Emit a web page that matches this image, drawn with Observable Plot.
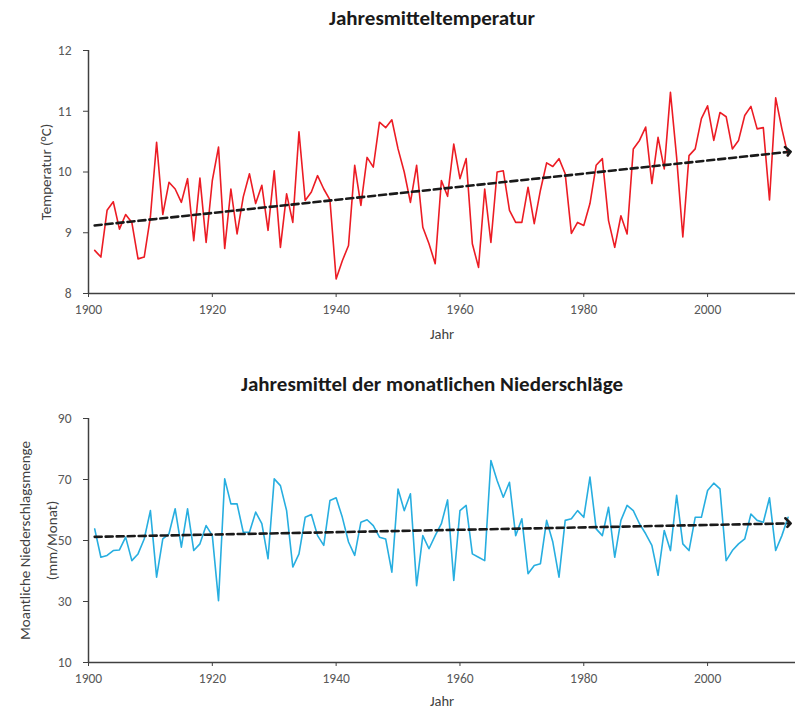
<!DOCTYPE html>
<html>
<head>
<meta charset="utf-8">
<script src="https://cdn.jsdelivr.net/npm/d3@7"></script>
<script src="https://cdn.jsdelivr.net/npm/@observablehq/plot@0.6"></script>
<style>
  html, body { margin: 0; padding: 0; background: #fff; }
  body { width: 795px; height: 717px; position: relative; overflow: hidden;
         font-family: Carlito, Lato, "Open Sans", sans-serif; }
  .title { position: absolute; left: 0; width: 864px; text-align: center;
           font-weight: bold; font-size: 21px; color: #1a1a1a; }
  #top, #bottom { position: absolute; left: 0; }
  #top { top: 30px; }
  #bottom { top: 400px; }
</style>
</head>
<body>
<div class="title" style="top:5px">Jahresmitteltemperatur</div>
<div id="top"></div>
<div class="title" style="top:371px">Jahresmittel der monatlichen Niederschläge</div>
<div id="bottom"></div>
<script>
const years = d3.range(1901, 2014);

const temperature = [
  8.71, 8.60, 9.37, 9.51, 9.06, 9.30, 9.17, 8.57, 8.60, 9.26,
  10.49, 9.30, 9.83, 9.72, 9.50, 9.89, 8.87, 9.90, 8.84, 9.86,
  10.41, 8.74, 9.72, 8.98, 9.59, 9.97, 9.48, 9.78, 9.04, 10.02,
  8.76, 9.64, 9.17, 10.66, 9.53, 9.67, 9.94, 9.72, 9.54, 8.24,
  8.54, 8.79, 10.11, 9.45, 10.24, 10.08, 10.82, 10.73, 10.86, 10.38,
  10.00, 9.50, 10.11, 9.09, 8.82, 8.49, 9.86, 9.60, 10.46, 9.89,
  10.22, 8.82, 8.43, 9.72, 8.84, 10.00, 10.02, 9.37, 9.17, 9.17,
  9.75, 9.15, 9.70, 10.15, 10.09, 10.22, 9.97, 8.99, 9.17, 9.12,
  9.48, 10.11, 10.22, 9.20, 8.76, 9.28, 8.98, 10.38, 10.52, 10.74,
  9.81, 10.57, 10.05, 11.31, 10.24, 8.93, 10.27, 10.38, 10.88, 11.09,
  10.52, 10.98, 10.91, 10.38, 10.52, 10.93, 11.08, 10.71, 10.73, 9.54,
  11.22, 10.71, 10.27
];

const precipitation = [
  53.8, 44.5, 45.1, 46.7, 46.9, 51.1, 43.4, 45.6, 50.5, 59.8,
  38.0, 50.5, 52.2, 60.4, 47.8, 60.4, 46.7, 48.9, 54.9, 51.6,
  30.3, 70.2, 62.0, 62.0, 52.7, 52.7, 59.3, 55.5, 44.0, 70.2,
  68.0, 59.8, 41.3, 45.6, 57.6, 58.5, 51.6, 48.4, 63.1, 64.0,
  57.6, 49.5, 45.1, 56.0, 56.8, 54.9, 51.1, 50.5, 39.6, 66.9,
  59.8, 65.3, 35.2, 51.6, 47.3, 51.6, 55.5, 63.3, 36.9, 59.8,
  61.5, 45.6, 44.5, 43.4, 76.2, 69.7, 64.2, 69.1, 51.6, 57.1,
  39.1, 41.8, 42.4, 56.6, 49.5, 38.0, 56.6, 57.1, 59.8, 57.6,
  70.8, 53.8, 51.6, 60.9, 44.5, 56.6, 61.5, 59.8, 55.5, 52.2,
  48.4, 38.6, 53.3, 46.7, 64.8, 48.9, 46.7, 57.6, 57.6, 66.4,
  68.8, 66.9, 43.4, 46.7, 48.9, 50.5, 58.7, 56.6, 56.0, 64.0,
  46.7, 51.6, 57.6
];

const trendYears = [1901, 2013];
const temperatureTrend = [9.12, 10.33];
const precipitationTrend = [51.2, 55.6];

const xTicks = [1900, 1920, 1940, 1960, 1980, 2000];
const tempTicks = [8, 9, 10, 11, 12];
const precipTicks = [10, 30, 50, 70, 90];

const tempData = years.map((y, i) => ({year: y, value: temperature[i]}));
const precipData = years.map((y, i) => ({year: y, value: precipitation[i]}));
const tempTrendData = trendYears.map((y, i) => ({year: y, value: temperatureTrend[i]}));
const precipTrendData = trendYears.map((y, i) => ({year: y, value: precipitationTrend[i]}));

const font = "Carlito, Lato, 'Open Sans', sans-serif";
const axisColor = "#404040";
const labelColor = "#595959";

function makeChart({data, trend, color, yDomain, yTicks, height, marginTop, marginBottom, yLabel, yLabelDx, xLabelDy}) {
  return Plot.plot({
    width: 795,
    height,
    marginLeft: 88,
    marginRight: 0,
    marginTop,
    marginBottom,
    style: {fontFamily: font, fontSize: "13.5px", color: labelColor, background: "white"},
    x: {domain: [1900, 2014.2]},
    y: {domain: yDomain},
    marks: [
      Plot.axisY({ticks: yTicks, tickFormat: d => String(d), tickSize: 5, tickPadding: 12, label: null, stroke: axisColor, fill: labelColor}),
      Plot.axisX({ticks: xTicks, tickFormat: "d", tickSize: 4, tickPadding: 7, label: null, stroke: axisColor, fill: labelColor}),
      Plot.ruleX([1900], {stroke: axisColor, strokeWidth: 1.5}),
      Plot.ruleY([yDomain[0]], {stroke: axisColor, strokeWidth: 1.5}),
      Plot.line(data, {x: "year", y: "value", stroke: color, strokeWidth: 1.6}),
      Plot.line(trend, {x: "year", y: "value", stroke: "#1a1a1a", strokeWidth: 2.6,
        strokeDasharray: "7,4", markerEnd: "arrow"}),
      Plot.text([yLabel], {frameAnchor: "left", dx: yLabelDx, rotate: -90, text: d => d,
        textAnchor: "middle", lineAnchor: "middle",
        fontSize: 15, fill: "#404040", lineHeight: 1.85}),
      Plot.text(["Jahr"], {frameAnchor: "bottom", dy: xLabelDy, text: d => d,
        fontSize: 14.5, fill: "#404040"})
    ]
  });
}

document.getElementById("top").appendChild(makeChart({
  data: tempData, trend: tempTrendData, color: "#ec1c24",
  yDomain: [8, 12], yTicks: tempTicks, height: 320, marginTop: 20, marginBottom: 57,
  yLabel: "Temperatur (°C)", yLabelDx: -46, xLabelDy: 45
}));

document.getElementById("bottom").appendChild(makeChart({
  data: precipData, trend: precipTrendData, color: "#27aee0",
  yDomain: [10, 90], yTicks: precipTicks, height: 317, marginTop: 18, marginBottom: 55,
  yLabel: "Moantliche Niederschlagsmenge\n(mm/Monat)", yLabelDx: -54, xLabelDy: 43
}));
</script>
</body>
</html>
